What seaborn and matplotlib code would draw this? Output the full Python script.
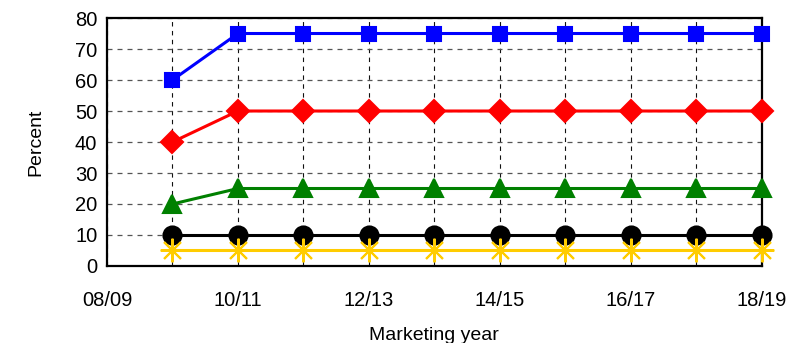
import numpy as np
import pandas as pd
import matplotlib
matplotlib.use("Agg")
import matplotlib.pyplot as plt
import seaborn as sns

# marketing years, position 0 = 08/09
years = ["08/09", "09/10", "10/11", "11/12", "12/13", "13/14",
         "14/15", "15/16", "16/17", "17/18", "18/19"]
point_years = years[1:]

blue = [60, 75, 75, 75, 75, 75, 75, 75, 75, 75]
red = [40, 50, 50, 50, 50, 50, 50, 50, 50, 50]
green = [20, 25, 25, 25, 25, 25, 25, 25, 25, 25]
black = [10, 10, 10, 10, 10, 10, 10, 10, 10, 10]
gold = [5, 5, 5, 5, 5, 5, 5, 5, 5, 5]

series = {"s1": blue, "s2": red, "s3": green, "s4": black, "s5": gold}

rows = []
for name, vals in series.items():
    for y, v in zip(point_years, vals):
        rows.append({"year": years.index(y), "value": v, "series": name})
df = pd.DataFrame(rows)

sns.set_style("white")
plt.rcParams["font.family"] = ["Liberation Sans", "DejaVu Sans"]

fig = plt.figure(figsize=(7.96, 3.43), dpi=100)
ax = fig.add_axes([0.1344, 0.2245, 0.8226, 0.723])

palette = {"s1": "#0000FF", "s2": "#FF0000", "s3": "#008000",
           "s4": "#000000", "s5": "#FFCC00"}
markers = {"s1": "s", "s2": "D", "s3": "^", "s4": "o", "s5": (8, 2, 0)}
sizes = {"s1": 10, "s2": 11, "s3": 13, "s4": 13, "s5": 17}

for name in series:
    d = df[df.series == name]
    sns.lineplot(data=d, x="year", y="value", ax=ax, color=palette[name],
                 marker=markers[name], markersize=sizes[name],
                 markeredgecolor=palette[name], markeredgewidth=1.5,
                 linewidth=2.2, clip_on=False, zorder=3)

ax.set_xlim(0, 10)
ax.set_ylim(0, 80)
ax.set_xticks(range(0, 11, 2))
ax.set_xticklabels(years[::2])
ax.set_xticks(range(0, 11), minor=True)
ax.set_yticks(range(0, 81, 10))
ax.grid(True, which="both", axis="x", linestyle=(0, (4, 4)), color="#111111", linewidth=0.8)
ax.grid(True, which="major", axis="y", linestyle=(0, (4, 4)), color="#555555", linewidth=0.9)
ax.set_axisbelow(True)
ax.tick_params(axis="both", which="both", length=0, labelsize=14.5, labelcolor="black")
ax.tick_params(axis="x", pad=18)
ax.tick_params(axis="y", pad=7)
for s in ax.spines.values():
    s.set_color("black")
    s.set_linewidth(1.6)
ax.set_xlabel("Marketing year", fontsize=14, labelpad=12, color="black")
ax.set_ylabel("Percent", fontsize=14, labelpad=22, color="black")
if ax.get_legend():
    ax.get_legend().remove()

fig.savefig("out.png", dpi=100)
